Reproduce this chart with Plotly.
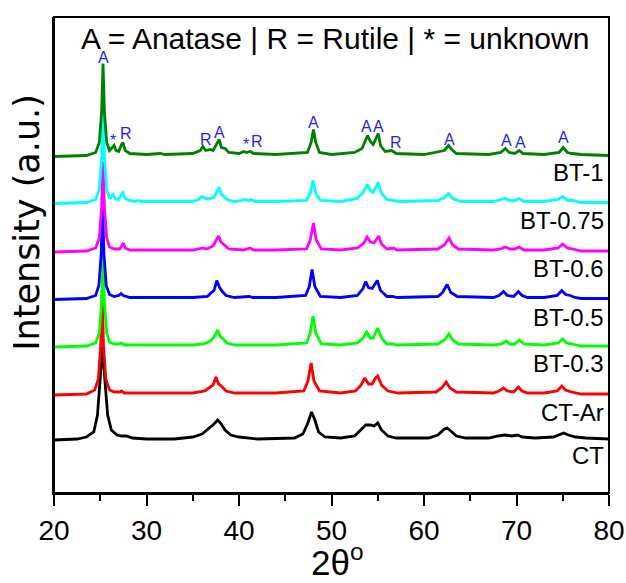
import plotly.graph_objects as go

# ---------------- data ----------------
series_names = ["BT-1", "BT-0.75", "BT-0.6", "BT-0.5", "BT-0.3", "CT-Ar", "CT"]
series_colors = ["#008000", "#00ffff", "#ff00ff", "#0000ff", "#00ff00", "#ff0000", "#000000"]
# vertical offsets of each pattern (arbitrary units)
offsets = [336.5, 289.5, 241, 193.5, 146, 98, 53]

bt1_x = [20, 23.5, 24.5, 24.9, 25.15, 25.3, 25.45, 25.7, 26.0, 26.3, 26.5, 26.7, 27.0, 27.3, 27.45, 27.7, 28.2, 30, 31.5, 32, 35,
         35.8, 36.1, 36.4, 36.9, 37.2, 37.6, 37.85, 38.1, 38.5, 38.9, 40.0, 40.5, 40.8, 41.2, 41.6, 44, 47.4, 47.8, 48.05, 48.3,
         48.7, 50, 52.5, 53.3, 53.7, 53.9, 54.2, 54.5, 54.8, 55.05, 55.3, 55.8, 56.5, 57, 60, 62.2, 62.65, 63.0, 63.5, 67, 68.3,
         68.8, 69.2, 69.8, 70.3, 70.7, 73, 74.6, 75.05, 75.5, 76, 77, 80]
bt1_y = [0, 1, 4, 14, 45, 93, 45, 14, 6, 9, 11, 6, 5, 12, 14, 6, 3, 2, 3, 2, 3,
         6, 10, 6, 7, 6, 12, 17, 9, 8, 4, 3, 5, 4, 5, 3, 2, 4, 14, 27, 14,
         4, 2, 4, 8, 18, 21, 15, 12, 18, 23, 11, 5, 6, 3, 2, 6, 11, 7, 3, 2, 4,
         8, 4, 3, 6, 3, 2, 4, 9, 4, 3, 2, 1]

bt075_x = [20, 23.5, 24.5, 24.9, 25.15, 25.3, 25.45, 25.7, 26.0, 26.2, 26.4, 26.6, 27.0, 27.25, 27.45, 27.7, 28.2, 28.8, 29.1,
           29.5, 31, 35, 35.6, 36.0, 36.4, 36.9, 37.3, 37.6, 37.85, 38.1, 38.4, 38.7, 39.5, 40.3, 40.6, 41.0, 41.3, 41.7, 44,
           47.3, 47.7, 48.0, 48.3, 48.8, 51, 52.8, 53.5, 53.85, 54.2, 54.5, 54.8, 55.05, 55.4, 56, 56.6, 57.5, 61.5, 62.2,
           62.65, 63.1, 64, 67.5, 68.3, 68.8, 69.3, 69.8, 70.3, 70.8, 73, 74.5, 75.0, 75.5, 76.1, 77, 80]
bt075_y = [0, 1, 4, 14, 45, 93, 45, 14, 5, 7, 9, 5, 4, 9, 11, 5, 3, 2, 3,
           2, 2, 2, 4, 7, 5, 5, 6, 12, 16, 9, 7, 4, 2, 3, 4, 3, 4, 2, 2,
           3, 10, 23, 10, 3, 2, 5, 12, 19, 13, 11, 16, 21, 10, 4, 3, 2, 3, 6,
           10, 5, 2, 2, 4, 5, 3, 3, 5, 2, 2, 4, 7, 3, 3, 1, 1]

bt06_x = [20, 23.5, 24.5, 24.9, 25.15, 25.3, 25.45, 25.7, 26.0, 26.5, 27.1, 27.35, 27.5, 27.7, 28.2, 35, 35.8, 36.1, 36.5, 36.9,
          37.2, 37.55, 37.8, 38.05, 38.4, 38.6, 38.9, 40.5, 41.2, 41.6, 44, 47.3, 47.7, 48.05, 48.35, 48.9, 51, 52.8, 53.5,
          53.85, 54.2, 54.6, 54.9, 55.1, 55.4, 56, 56.7, 57.1, 61.5, 62.2, 62.7, 63.1, 63.7, 67.5, 68.3, 68.8, 69.3, 69.8,
          70.3, 70.8, 73, 74.5, 75.0, 75.5, 76.1, 77, 80]
bt06_y = [0, 1, 4, 14, 45, 90, 45, 14, 5, 3, 3, 7, 9, 4, 2, 2, 3, 4, 3, 5,
          6, 12, 16, 10, 7, 6, 3, 2, 4, 2, 2, 3, 12, 29, 12, 3, 2, 4, 9,
          15, 10, 9, 14, 16, 8, 3, 4, 2, 3, 7, 14, 7, 3, 2, 3, 5, 3, 3,
          5, 2, 2, 4, 8, 4, 3, 1, 1]

bt05_x = [20, 23.5, 24.5, 24.85, 25.1, 25.25, 25.4, 25.65, 26.0, 26.5, 27.0, 27.25, 27.5, 28.2, 35, 36.0, 36.6, 36.9, 37.3,
          37.6, 37.9, 38.2, 38.6, 39.5, 41.1, 41.5, 44, 47.2, 47.6, 47.9, 48.2, 48.8, 51, 52.8, 53.4, 53.7, 54.0, 54.4,
          54.75, 54.95, 55.3, 56, 56.6, 57.1, 61.5, 62.0, 62.5, 62.9, 63.6, 67.5, 68.1, 68.6, 69.0, 69.7, 70.2, 70.6, 71.2,
          73, 74.4, 74.9, 75.3, 75.8, 76.3, 77, 80]
bt05_y = [0, 1, 4, 14, 45, 93, 45, 14, 5, 3, 4, 6, 4, 2, 2, 3, 3, 6, 9,
          19, 12, 8, 4, 2, 3, 2, 2, 4, 13, 30, 13, 3, 2, 4, 11, 18, 12, 11,
          16, 19, 9, 3, 3, 2, 3, 7, 15, 7, 3, 2, 4, 8, 4, 3, 8, 4, 2,
          2, 4, 9, 5, 4, 2, 1, 1]

bt03_x = [20, 23.5, 24.5, 24.9, 25.15, 25.3, 25.45, 25.7, 26.0, 26.5, 27.0, 27.3, 27.6, 28.2, 35, 36.2, 36.9, 37.3, 37.7, 38.0,
          38.3, 38.7, 39.5, 44, 47.3, 47.7, 48.0, 48.3, 48.9, 51, 52.8, 53.4, 53.8, 54.2, 54.5, 54.8, 55.0, 55.4, 56, 56.6,
          57.1, 61.5, 62.2, 62.7, 63.1, 63.7, 67.5, 68.4, 68.9, 69.3, 69.8, 70.3, 70.8, 73, 74.5, 75.0, 75.4, 76.0, 77, 80]
bt03_y = [0, 1, 4, 14, 45, 93, 45, 14, 5, 3, 3, 4, 2, 2, 2, 3, 6, 10, 17, 10,
          8, 4, 2, 2, 4, 14, 31, 14, 3, 2, 4, 9, 15, 9, 9, 15, 19, 9, 3, 3,
          2, 3, 7, 13, 7, 3, 2, 3, 6, 3, 3, 7, 3, 2, 4, 8, 4, 3, 1, 1]

ctar_x = [20, 23.5, 24.4, 24.8, 25.05, 25.2, 25.35, 25.6, 26.0, 26.5, 27.1, 27.3, 27.6, 28.5, 35, 36.3, 36.9, 37.2, 37.5, 37.8,
          38.1, 38.6, 39.5, 44, 47.0, 47.45, 47.8, 48.1, 48.7, 51, 52.6, 53.2, 53.6, 54.0, 54.4, 54.75, 55.0, 55.4, 56.1,
          56.6, 57.2, 61.3, 61.9, 62.4, 62.8, 63.5, 67.5, 68.1, 68.6, 69.0, 69.7, 70.2, 70.6, 71.2, 73, 74.4, 74.9, 75.3,
          75.9, 76.5, 77, 80]
ctar_y = [0, 1, 5, 16, 50, 105, 50, 16, 5, 3, 3, 4, 2, 2, 2, 4, 8, 10, 18, 11,
          9, 4, 2, 2, 4, 14, 32, 14, 4, 2, 4, 10, 17, 11, 11, 17, 19, 10, 4,
          3, 2, 3, 7, 13, 7, 3, 2, 4, 7, 4, 3, 8, 4, 2, 2, 4, 9, 5,
          3, 2, 1, 1]

ct_x = [20, 22.5, 23.5, 24.3, 24.7, 25.0, 25.25, 25.5, 25.8, 26.2, 26.8, 27.3, 27.8, 28.5, 30, 33, 35, 36.0, 36.8, 37.3, 37.7,
        38.0, 38.5, 39.1, 40, 42, 46, 46.9, 47.4, 47.85, 48.2, 48.6, 49.3, 51, 52.5, 53.2, 53.7, 54.2, 54.6, 55.0, 55.4,
        56.1, 57, 60.5, 61.5, 62.2, 62.5, 62.9, 63.5, 64.5, 67, 68, 68.8, 69.5, 70.1, 70.6, 72, 74.0, 74.7, 75.1, 75.6,
        76.4, 77.5, 80]
ct_y = [0, 1, 3, 8, 25, 60, 93, 60, 25, 10, 5, 4, 4, 2, 1, 1, 3, 6, 12, 16, 20,
        17, 10, 5, 3, 1, 2, 6, 16, 28, 20, 8, 3, 2, 4, 10, 15, 15, 14, 17, 10,
        4, 2, 2, 5, 11, 12, 9, 4, 2, 2, 4, 5, 4, 5, 3, 2, 3, 6, 7, 5,
        3, 2, 1]

series_x = [bt1_x, bt075_x, bt06_x, bt05_x, bt03_x, ctar_x, ct_x]
series_y = [bt1_y, bt075_y, bt06_y, bt05_y, bt03_y, ctar_y, ct_y]

# phase labels above the BT-1 pattern
phase_x = [25.4, 26.4, 27.8, 36.4, 37.9, 40.75, 41.9, 48.1, 53.8, 55.1, 57.0, 62.8, 68.9, 70.4, 75.1]
phase_text = ["A", "*", "R", "R", "A", "*", "R", "A", "A", "A", "R", "A", "A", "A", "A"]
phase_y = [436, 353, 360, 354, 361, 349, 352, 371, 367, 367, 351, 354, 353, 351, 356]

# series label heights
label_y = [321, 273, 225, 176, 130, 81, 38]

# ---------------- figure ----------------
FONT = "Liberation Sans, Arial, sans-serif"

fig = go.Figure()
# draw bottom pattern first so upper patterns sit on top
for name, col, off, xs, ys in reversed(list(zip(series_names, series_colors, offsets, series_x, series_y))):
    fig.add_trace(go.Scatter(x=xs, y=[off + v for v in ys], mode="lines", name=name,
                             line=dict(color=col, width=2.8), showlegend=False))

annotations = []
for x, t, y in zip(phase_x, phase_text, phase_y):
    annotations.append(dict(x=x, y=y, xref="x", yref="y", text=t, showarrow=False,
                            font=dict(family=FONT, size=16, color="#1f1fff"),
                            xanchor="center", yanchor="middle"))
for name, y in zip(series_names, label_y):
    annotations.append(dict(x=0.994, y=y, xref="paper", yref="y", text=name, showarrow=False,
                            font=dict(family=FONT, size=24, color="black"),
                            xanchor="right", yanchor="middle"))
annotations.append(dict(x=0.507, y=455, xref="paper", yref="y",
                        text="A = Anatase | R = Rutile | * = unknown", showarrow=False,
                        font=dict(family=FONT, size=30, color="black"),
                        xanchor="center", yanchor="middle"))
annotations.append(dict(x=-0.049, y=271, xref="paper", yref="y", text="Intensity (a.u.)",
                        showarrow=False, textangle=-90,
                        font=dict(family="DejaVu Sans, sans-serif", size=35, color="black"),
                        xanchor="center", yanchor="middle"))
annotations.append(dict(x=50.6, y=-0.14, xref="x", yref="paper", text="2θ<sup>o</sup>",
                        showarrow=False,
                        font=dict(family=FONT, size=35, color="black"),
                        xanchor="center", yanchor="middle"))

fig.update_layout(
    width=626, height=583,
    margin=dict(l=54, r=17, t=17, b=90, autoexpand=False),
    plot_bgcolor="white", paper_bgcolor="white",
    annotations=annotations,
    shapes=[dict(type="rect", xref="paper", yref="paper", x0=0, x1=1, y0=0, y1=1,
                 line=dict(color="black", width=2), layer="above")],
    xaxis=dict(range=[20, 80], dtick=10, tick0=20, showgrid=False, zeroline=False,
               automargin=False,
               showline=True, linecolor="black", linewidth=2,
               ticks="outside", ticklen=11, tickwidth=2, tickcolor="black",
               minor=dict(dtick=5, ticks="outside", ticklen=6, tickwidth=2, tickcolor="black"),
               tickfont=dict(family=FONT, size=28, color="black")),
    yaxis=dict(range=[0, 476], showgrid=False, zeroline=False, showticklabels=False,
               automargin=False,
               showline=True, linecolor="black", linewidth=2, ticks=""),
)

fig.write_html("out.html")
